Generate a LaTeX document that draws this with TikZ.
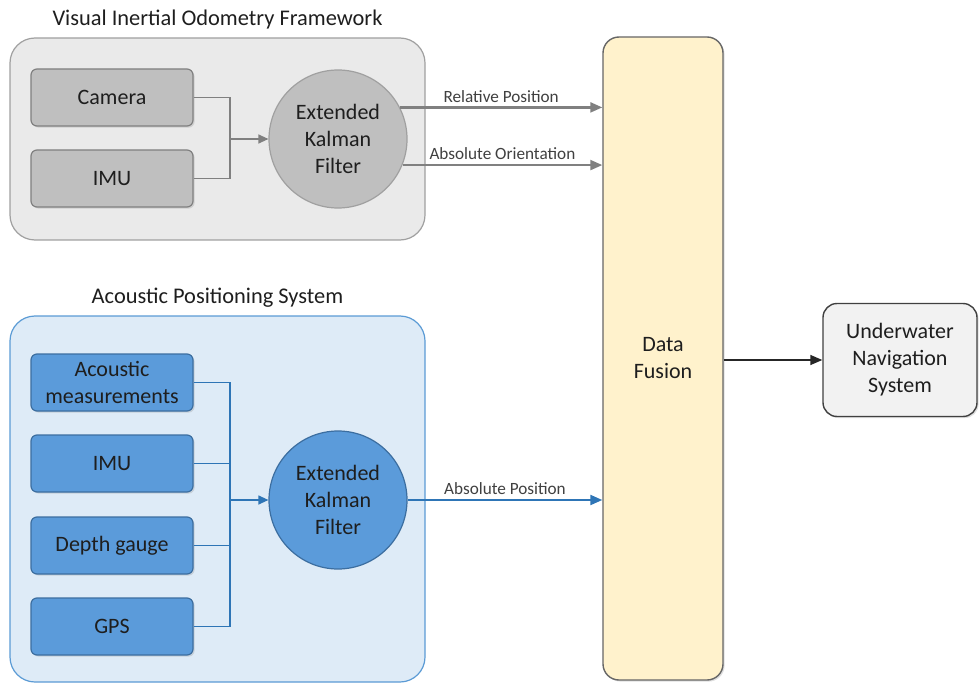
\documentclass[tikz,border=0pt]{standalone}
\usepackage{fontspec}
\setmainfont{Carlito}
\usetikzlibrary{positioning, arrows.meta, shapes.geometric, shadows}

\definecolor{viofill}{RGB}{234,234,234}
\definecolor{violine}{RGB}{160,160,160}
\definecolor{grayfill}{RGB}{191,191,191}
\definecolor{grayline}{RGB}{128,128,128}
\definecolor{apsfill}{RGB}{222,235,247}
\definecolor{apsline}{RGB}{91,155,213}
\definecolor{bluefill}{RGB}{91,155,218}
\definecolor{blueline}{RGB}{60,110,160}
\definecolor{bluearrow}{RGB}{46,117,182}
\definecolor{fusionfill}{RGB}{255,242,204}
\definecolor{textdark}{RGB}{30,30,30}

\begin{document}
\begin{tikzpicture}[
    x=0.5pt, y=-0.5pt,
    font=\fontsize{11}{13.5}\selectfont, text=textdark,
    container/.style={rectangle, rounded corners=12.5pt, line width=0.6pt,
                      minimum width=207.5pt},
    grouptitle/.style={font=\fontsize{11.2}{13}\selectfont},
    sensor/.style={rectangle, rounded corners=3pt, line width=0.6pt,
                   minimum width=81pt, minimum height=28.5pt, align=center,
                   drop shadow={shadow xshift=0.8pt, shadow yshift=-0.8pt, opacity=0.25}},
    filter/.style={circle, line width=0.6pt, minimum size=69pt, inner sep=0pt, align=center},
    arrow/.style={-{Triangle[length=6pt, width=5pt]}, line width=1.1pt},
    link/.style={line width=0.6pt},
    flowlabel/.style={font=\fontsize{8.6}{10}\selectfont, text=textdark!85, above, midway, inner sep=2pt},
    % Colores por bloque
    vio/.style={draw=grayline, fill=grayfill},
    aps/.style={draw=blueline, fill=bluefill}
]
\useasboundingbox (0,0) rectangle (979,684);

% --- Visual Inertial Odometry ---
\node[container, draw=violine, fill=viofill, minimum height=101pt] (viobox) at (217.5,139) {};
\node[grouptitle] (viotitle) at (217.5,20) {Visual Inertial Odometry Framework};

\node[sensor, vio] (camera) at (112,97.5) {Camera};
\node[sensor, vio] (vimu) at (112,178.5) {IMU};
\node[filter, draw=violine, fill=grayfill] (vekf) at (338,139) {Extended\\Kalman\\Filter};

\coordinate (vjoin) at (230,139);
\draw[link, grayline] (camera.east) -| (vjoin);
\draw[link, grayline] (vimu.east) -| (vjoin);
\draw[-{Triangle[length=5pt, width=4.5pt]}, link, grayline] (vjoin) -- (vekf.west);

% --- Acoustic Positioning System ---
\node[container, draw=apsline, fill=apsfill, minimum height=183pt] (apsbox) at (217.5,499) {};
\node[grouptitle] (apstitle) at (217.5,298) {Acoustic Positioning System};

\node[sensor, aps] (acoustic) at (112,382.5) {Acoustic\\measurements};
\node[sensor, aps] (aimu) at (112,463.5) {IMU};
\node[sensor, aps] (depth) at (112,545.5) {Depth gauge};
\node[sensor, aps] (gps) at (112,626.5) {GPS};
\node[filter, draw=blueline, fill=bluefill] (aekf) at (338,500) {Extended\\Kalman\\Filter};

\coordinate (ajoin) at (230,500);
\foreach \src in {acoustic, aimu, depth, gps}
    \draw[link, bluearrow] (\src.east) -| (ajoin);
\draw[-{Triangle[length=5pt, width=4.5pt]}, link, bluearrow] (ajoin) -- (aekf.west);

% --- Fusion y salida ---
\node[rectangle, rounded corners=8pt, draw=grayline!80!black, fill=fusionfill, line width=0.7pt,
      minimum width=60pt, minimum height=321.5pt, align=center,
      drop shadow={shadow xshift=0.8pt, shadow yshift=-0.8pt, opacity=0.25}] (fusion) at (663,358.5) {Data\\Fusion};
\node[rectangle, rounded corners=7pt, draw=black!75, fill=black!5, line width=0.7pt,
      minimum width=77pt, minimum height=56.5pt, align=center,
      drop shadow={shadow xshift=0.8pt, shadow yshift=-0.8pt, opacity=0.25}] (uns) at (900,360) {Underwater\\Navigation\\System};

% --- Flechas con etiquetas ---
\draw[arrow, grayline] (vekf.27) -- (vekf.27 -| fusion.west) node[flowlabel] {Relative Position};
\draw[arrow, grayline] (vekf.-22) -- (vekf.-22 -| fusion.west) node[flowlabel] {Absolute Orientation};
\draw[arrow, bluearrow] (aekf.east) -- (aekf.east -| fusion.west) node[flowlabel] {Absolute Position};
\draw[arrow, black!85, line width=0.7pt] (fusion.east |- uns.west) -- (uns.west);
\end{tikzpicture}
\end{document}
